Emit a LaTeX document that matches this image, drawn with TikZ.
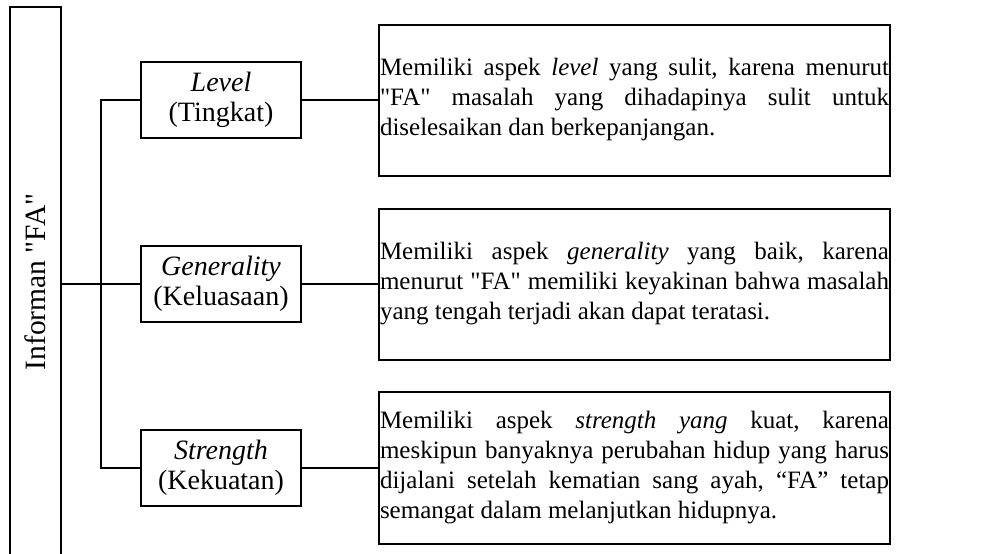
\documentclass[tikz,border=0pt]{standalone}
\usepackage{fontspec}
\setmainfont{Liberation Serif}
\usetikzlibrary{positioning}
\hyphenpenalty=10000
\newcommand{\kutip}{\textquotedbl}

\begin{document}
\begin{tikzpicture}[x=1pt, y=1pt, line width=2pt,
    informan/.style={rectangle, draw, rotate=90, minimum width=550, minimum height=51, font=\fontsize{29.5}{32}\selectfont},
    aspek/.style={rectangle, draw, minimum width=160, minimum height=76, inner sep=1pt, align=center, font=\fontsize{28}{30}\selectfont},
    uraian/.style={rectangle, draw, text width=509, minimum height=151, inner sep=1pt, align=justify, font=\fontsize{25}{30}\selectfont\frenchspacing},
    garis/.style={line width=2pt}
]
\clip (0,0) rectangle (989,-554);

% Informan
\node[informan] (fa) at (35.5,-282) {Informan \kutip FA\kutip};

% Aspek
\node[aspek] (lvl) at (221,-100) {\textit{Level}\\(Tingkat)};
\node[aspek, below=106 of lvl] (gen) {\textit{Generality}\\(Keluasaan)};
\node[aspek, below=106 of gen] (str) {\textit{Strength}\\(Kekuatan)};

% Uraian
\node[uraian, right=76 of lvl] (lvldesc) {Memiliki aspek \textit{level} yang sulit, karena menurut\linebreak
\kutip FA\kutip{} masalah yang dihadapinya sulit untuk\linebreak
diselesaikan dan berkepanjangan.};
\node[uraian, right=76 of gen] (gendesc) {Memiliki aspek \textit{generality} yang baik, karena\linebreak
menurut \kutip FA\kutip{} memiliki keyakinan bahwa masalah\linebreak
yang tengah terjadi akan dapat teratasi.};
\node[uraian, right=76 of str, minimum height=152] (strdesc) {Memiliki aspek \textit{strength yang} kuat, karena\linebreak
meskipun banyaknya perubahan hidup yang harus\linebreak
dijalani setelah kematian sang ayah, “FA” tetap\linebreak
semangat dalam melanjutkan hidupnya.};

% Garis
\coordinate (cabang) at (101,-282);
\draw[garis] (fa.south |- gen.west) -- (gen.west);
\draw[garis] (lvl.west) -| (cabang) |- (str.west);
\draw[garis] (lvl.east) -- (lvl.east -| lvldesc.west);
\draw[garis] (gen.east) -- (gen.east -| gendesc.west);
\draw[garis] (str.east) -- (str.east -| strdesc.west);

\end{tikzpicture}
\end{document}
